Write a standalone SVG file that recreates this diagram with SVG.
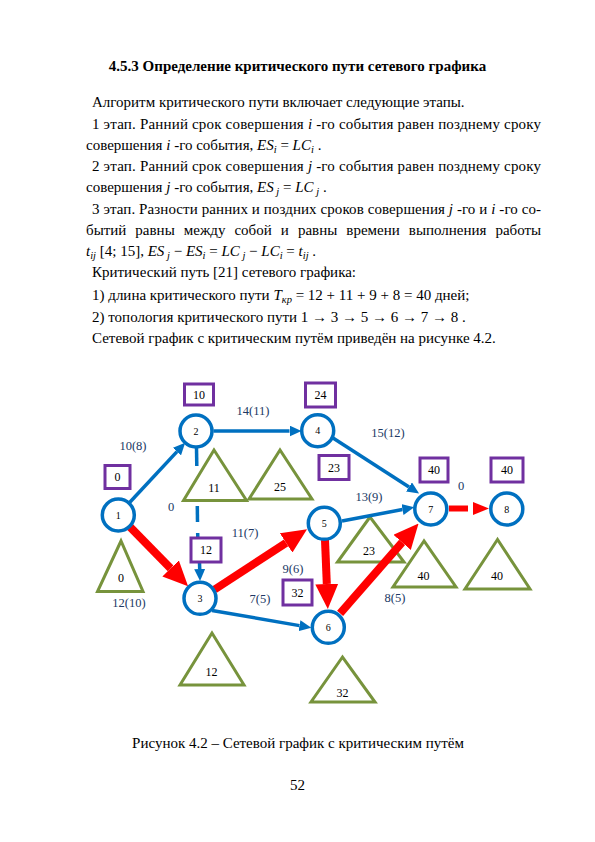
<svg xmlns="http://www.w3.org/2000/svg" width="595" height="842" viewBox="0 0 595 842">
<style>
.body{font-family:"Liberation Serif","Times New Roman",serif;font-size:15px;fill:#000}
.it{font-style:italic}
.sub{font-size:10.5px;font-style:italic}
.title{font-family:"Liberation Serif","Times New Roman",serif;font-size:15px;font-weight:bold;fill:#000}
.node circle{fill:#fff;stroke:#0070C0;stroke-width:3.5}
.node text{font-family:"Liberation Serif",serif;font-size:10px;text-anchor:middle;fill:#000}
.box rect{fill:#fff;stroke:#7030A0;stroke-width:3}
.box text,.tri text{font-family:"Liberation Serif",serif;font-size:12px;text-anchor:middle;fill:#000}
.tri polygon{fill:#fff;stroke:#77933C;stroke-width:3;stroke-linejoin:miter}
.blue{stroke:#0070C0;stroke-width:3.5;fill:none;marker-end:url(#ab)}
.bluep{stroke:#0070C0;stroke-width:3.5;fill:none}
.red{stroke:#FF0000;stroke-width:8;fill:none;marker-end:url(#ar)}
.lbl{font-family:"Liberation Serif",serif;font-size:12.5px;text-anchor:middle;fill:#203864}
</style>
<defs>
<marker id="ab" markerUnits="userSpaceOnUse" markerWidth="12" markerHeight="11" viewBox="0 0 12 11" refX="0" refY="5.5" orient="auto"><path d="M0,0 L12,5.5 L0,11 Z" fill="#0070C0"/></marker>
<marker id="ar" markerUnits="userSpaceOnUse" markerWidth="25" markerHeight="23" viewBox="0 0 25 23" refX="0" refY="11.5" orient="auto"><path d="M0,0 L25,11.5 L0,23 Z" fill="#FF0000"/></marker>
<marker id="ars" markerUnits="userSpaceOnUse" markerWidth="16" markerHeight="13" viewBox="0 0 16 13" refX="0" refY="6.5" orient="auto"><path d="M0,0 L16,6.5 L0,13 Z" fill="#FF0000"/></marker>
</defs>
<rect width="595" height="842" fill="#fff"/>

<text class="title" x="297.5" y="71" text-anchor="middle">4.5.3 Определение критического пути сетевого графика</text>

<text class="body" x="92" y="107">Алгоритм критического пути включает следующие этапы.</text>
<text class="body" x="92" y="129" textLength="449" lengthAdjust="spacing">1 этап. Ранний срок совершения <tspan class="it">i</tspan> -го события равен позднему сроку</text>
<text class="body" x="86" y="150">совершения <tspan class="it">i</tspan> -го события, <tspan class="it">ES</tspan><tspan class="sub" dy="3">i</tspan><tspan dy="-3"> = </tspan><tspan class="it">LC</tspan><tspan class="sub" dy="3">i</tspan><tspan dy="-3"> .</tspan></text>
<text class="body" x="92" y="171" textLength="449" lengthAdjust="spacing">2 этап. Ранний срок совершения  <tspan class="it">j</tspan> -го события равен позднему сроку</text>
<text class="body" x="86" y="192">совершения  <tspan class="it">j</tspan> -го события, <tspan class="it">ES</tspan><tspan class="sub" dy="3"> j</tspan><tspan dy="-3"> = </tspan><tspan class="it">LC</tspan><tspan class="sub" dy="3"> j</tspan><tspan dy="-3"> .</tspan></text>
<text class="body" x="92" y="214" textLength="449" lengthAdjust="spacing">3 этап. Разности ранних и поздних сроков совершения  <tspan class="it">j</tspan> -го и <tspan class="it">i</tspan> -го со-</text>
<text class="body" x="86" y="235" word-spacing="5.3">бытий равны между собой и равны времени выполнения работы</text>
<text class="body" x="86" y="256"><tspan class="it">t</tspan><tspan class="sub" dy="3">ij</tspan><tspan dy="-3">  [4; 15], </tspan><tspan class="it">ES</tspan><tspan class="sub" dy="3"> j</tspan><tspan dy="-3"> − </tspan><tspan class="it">ES</tspan><tspan class="sub" dy="3">i</tspan><tspan dy="-3"> = </tspan><tspan class="it">LC</tspan><tspan class="sub" dy="3"> j</tspan><tspan dy="-3"> − </tspan><tspan class="it">LC</tspan><tspan class="sub" dy="3">i</tspan><tspan dy="-3"> = </tspan><tspan class="it">t</tspan><tspan class="sub" dy="3">ij</tspan><tspan dy="-3"> .</tspan></text>
<text class="body" x="92" y="277">Критический путь [21] сетевого графика:</text>
<text class="body" x="92" y="300">1) длина критического пути <tspan class="it">T</tspan><tspan class="sub" dy="3">кр</tspan><tspan dy="-3">  = 12 + 11 + 9 + 8 = 40   дней;</tspan></text>
<text class="body" x="92" y="322">2) топология критического пути 1 → 3 → 5 → 6 → 7 → 8 .</text>
<text class="body" x="92" y="343">Сетевой график с критическим путём приведён на рисунке 4.2.</text>

<g id="triangles">
<g id="t11" class="tri"><polygon points="214,450 183.5,500.5 246.5,500.5"/><text x="214" y="492">11</text></g>
<g id="t25" class="tri"><polygon points="280,450 249,499 312,499"/><text x="280" y="491">25</text></g>
<g id="t1" class="tri"><polygon points="121,541 97.5,591.5 143,591.5"/><text x="121" y="582">0</text></g>
<g id="t3" class="tri"><polygon points="212,633 180,685 244,685"/><text x="211.5" y="676">12</text></g>
<g id="t23" class="tri"><polygon points="370,517 337.5,562 404,562"/><text x="369" y="555">23</text></g>
<g id="t7" class="tri"><polygon points="424,541 393,587 456,587"/><text x="423.5" y="580">40</text></g>
<g id="t8" class="tri"><polygon points="497.5,539.5 465,589 530,589"/><text x="497" y="580">40</text></g>
<g id="t6" class="tri"><polygon points="342.5,657 311,702 375,702"/><text x="342.5" y="697">32</text></g>
</g>

<g id="connectors">
<line class="blue" x1="129.6" y1="502.5" x2="177" y2="451.6"/>
<line class="blue" x1="213.5" y1="431" x2="289.5" y2="431"/>
<line class="blue" x1="333" y1="438" x2="409" y2="487"/>
<line class="blue" x1="342" y1="521" x2="402.5" y2="509.5"/>
<line class="blue" x1="212" y1="610.5" x2="299.5" y2="625.6"/>
<line class="bluep" x1="196.5" y1="448" x2="196.8" y2="466"/>
<line class="bluep" x1="197.3" y1="506" x2="197.5" y2="522"/>
<line class="bluep" x1="197.7" y1="533" x2="197.8" y2="539"/>
<line class="blue" x1="199.5" y1="562" x2="199.7" y2="569"/>
<line class="red" x1="130.2" y1="527.1" x2="170.6" y2="568.4"/>
<line class="red" x1="214.6" y1="589.5" x2="286.1" y2="542.9"/>
<line class="red" x1="325" y1="540" x2="326.8" y2="584"/>
<line class="red" x1="340.1" y1="613.4" x2="402.1" y2="542.4"/>
<line x1="449" y1="508.5" x2="468" y2="508.5" stroke="#FF0000" stroke-width="6"/>
<line x1="472" y1="508.5" x2="473" y2="508.5" stroke="none" marker-end="url(#ars)"/>
</g>

<g id="labels">
<text class="lbl" x="133" y="450">10(8)</text>
<text class="lbl" x="253" y="415">14(11)</text>
<text class="lbl" x="388" y="437">15(12)</text>
<text class="lbl" x="461" y="490">0</text>
<text class="lbl" x="369" y="501">13(9)</text>
<text class="lbl" x="171" y="511">0</text>
<text class="lbl" x="245" y="537">11(7)</text>
<text class="lbl" x="293" y="573">9(6)</text>
<text class="lbl" x="260" y="603">7(5)</text>
<text class="lbl" x="129" y="607">12(10)</text>
<text class="lbl" x="395" y="602">8(5)</text>
</g>

<g id="boxes">
<g id="b2" class="box"><rect x="184.5" y="384" width="29" height="21"/><text x="199" y="399">10</text></g>
<g id="b1" class="box"><rect x="105" y="465.5" width="25" height="23"/><text x="117.5" y="481">0</text></g>
<g id="b4" class="box"><rect x="305.5" y="383" width="30" height="24"/><text x="320.5" y="399">24</text></g>
<g id="b23" class="box"><rect x="319" y="455.5" width="30" height="24"/><text x="334" y="471.5">23</text></g>
<g id="b7" class="box"><rect x="420" y="458" width="28" height="24"/><text x="434" y="474">40</text></g>
<g id="b8" class="box"><rect x="491" y="458" width="32" height="24"/><text x="507" y="474">40</text></g>
<g id="b3" class="box"><rect x="191" y="538" width="30" height="24"/><text x="206" y="554">12</text></g>
<g id="b6" class="box"><rect x="283" y="580" width="29" height="25"/><text x="297.5" y="596.5">32</text></g>
</g>

<g id="nodes">
<g id="n1" class="node"><circle cx="118.3" cy="515" r="16"/><text x="118.3" y="518.5">1</text></g>
<g id="n2" class="node"><circle cx="196" cy="431" r="16"/><text x="196" y="434.5">2</text></g>
<g id="n3" class="node"><circle cx="200" cy="598.3" r="16"/><text x="200" y="601.8">3</text></g>
<g id="n4" class="node"><circle cx="317.7" cy="430.7" r="16"/><text x="317.7" y="434.2">4</text></g>
<g id="n5" class="node"><circle cx="324.3" cy="523.3" r="16"/><text x="324.3" y="526.8">5</text></g>
<g id="n6" class="node"><circle cx="328.3" cy="627.3" r="16"/><text x="328.3" y="630.8">6</text></g>
<g id="n7" class="node"><circle cx="430.8" cy="509" r="16"/><text x="430.8" y="512.5">7</text></g>
<g id="n8" class="node"><circle cx="506.8" cy="509" r="16"/><text x="506.8" y="512.5">8</text></g>
</g>

<text class="body" x="298" y="748" text-anchor="middle">Рисунок 4.2 – Сетевой график с критическим путём</text>
<text class="body" x="297.5" y="790" text-anchor="middle" font-size="12">52</text>
</svg>
